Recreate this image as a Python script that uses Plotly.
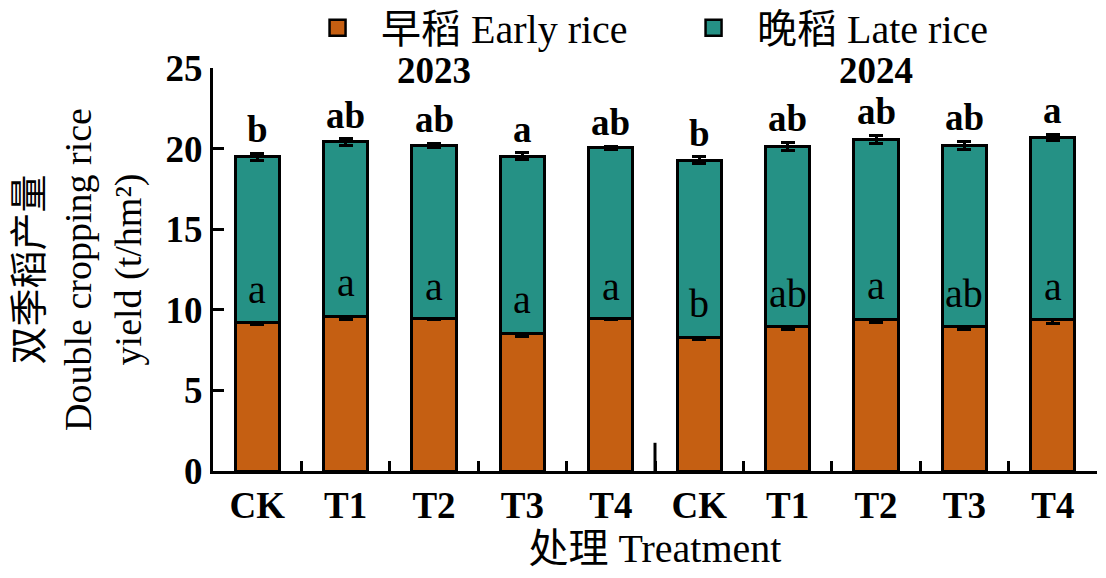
import plotly.graph_objects as go

# yield data (t/hm2)
treatments = ["CK", "T1", "T2", "T3", "T4", "CK", "T1", "T2", "T3", "T4"]
years = ["2023"] * 5 + ["2024"] * 5
early_rice = [9.22, 9.60, 9.47, 8.54, 9.47, 8.31, 8.95, 9.42, 8.95, 9.37]
total_yield = [19.48, 20.41, 20.20, 19.54, 20.04, 19.29, 20.14, 20.58, 20.20, 20.70]
early_err = [0.12, 0.22, 0.06, 0.18, 0.06, 0.18, 0.18, 0.20, 0.15, 0.20]
total_err = [0.22, 0.20, 0.12, 0.20, 0.12, 0.22, 0.25, 0.25, 0.26, 0.20]
early_letters = ["a", "a", "a", "a", "a", "b", "ab", "a", "ab", "a"]
total_letters = ["b", "ab", "ab", "a", "ab", "b", "ab", "ab", "ab", "a"]

late_rice = [round(t - e, 2) for t, e in zip(total_yield, early_rice)]
cats = [f"{t}-{y}" for t, y in zip(treatments, years)]

FONT = "Liberation Serif, Times New Roman, Noto Sans CJK SC"
ORANGE = "#C55F12"
TEAL = "#259185"

fig = go.Figure()
fig.add_trace(go.Bar(x=cats, y=early_rice, name="早稻 Early rice", marker_color=ORANGE,
                     marker_line=dict(color="black", width=3), showlegend=False,
                     error_y=dict(type="data", array=early_err, color="black", thickness=3, width=7)))
fig.add_trace(go.Bar(x=cats, y=late_rice, name="晚稻 Late rice", marker_color=TEAL,
                     marker_line=dict(color="black", width=3), showlegend=False,
                     error_y=dict(type="data", array=total_err, color="black", thickness=3, width=7)))

# legend entries with bigger square swatches
for name, col in [("\u00a0早稻 Early rice", ORANGE), ("\u00a0晚稻 Late rice", TEAL)]:
    fig.add_trace(go.Scatter(x=[None], y=[None], mode="markers", name=name,
                             marker=dict(symbol="square", size=17, color=col,
                                         line=dict(color="black", width=2.5))))

# significance letters
for c, e, ee, lab in zip(cats, early_rice, early_err, early_letters):
    fig.add_annotation(x=c, y=e + ee, text=lab, showarrow=False, yanchor="bottom", yshift=6,
                       font=dict(family=FONT, size=40, color="black"))
for c, t, te, lab in zip(cats, total_yield, total_err, total_letters):
    fig.add_annotation(x=c, y=t + te, text=f"<b>{lab}</b>", showarrow=False, yanchor="bottom", yshift=1,
                       font=dict(family=FONT, size=37, color="black"))

# year labels
for c, yr in [(cats[2], "2023"), (cats[7], "2024")]:
    fig.add_annotation(x=c, y=25, text=f"<b>{yr}</b>", showarrow=False, yanchor="middle", yshift=-2,
                       font=dict(family=FONT, size=37, color="black"))

# divider between the two years
fig.add_shape(type="line", xref="x", yref="y", x0=4.5, x1=4.5, y0=0, y1=1.75,
              line=dict(color="black", width=3))

fig.update_layout(
    width=1106, height=578,
    margin=dict(l=205, r=17, t=60, b=115, autoexpand=False),
    barmode="stack", bargap=0.5,
    plot_bgcolor="white", paper_bgcolor="white",
    font=dict(family=FONT, size=40, color="black"),
    showlegend=True,
    legend=dict(orientation="h", x=0.103, xanchor="left", y=1.1, yanchor="middle",
                traceorder="normal", font=dict(family=FONT, size=40),
                entrywidth=304, itemwidth=57, bgcolor="rgba(0,0,0,0)"),
    xaxis=dict(tickvals=cats, ticktext=[f"<b>{t}</b>" for t in treatments], tickson="boundaries",
               ticks="inside", ticklen=10, tickwidth=3, tickcolor="black",
               showline=True, linecolor="black", linewidth=3, automargin=False,
               range=[-0.5, 9.5], tickfont=dict(size=37),
               title=dict(text="处理 Treatment", font=dict(size=40), standoff=2)),
    yaxis=dict(range=[0, 25], dtick=5, ticks="inside", ticklen=11, tickwidth=3, tickcolor="black",
               showline=True, linecolor="black", linewidth=3, showgrid=False, zeroline=False,
               tickfont=dict(size=37), tickprefix="<b>", ticksuffix="</b>", automargin=False,
               title=dict(text="双季稻产量<br>Double cropping rice<br>yield (t/hm²)",
                          font=dict(size=38), standoff=24)),
)

fig.write_html("out.html")
